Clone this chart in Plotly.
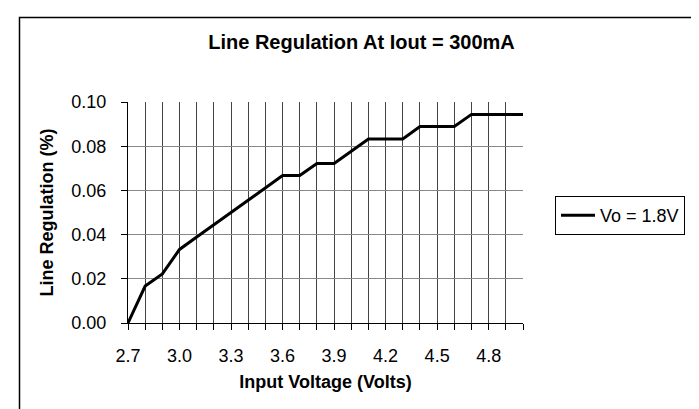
import plotly.graph_objects as go

# Data
input_voltage = [2.7, 2.8, 2.9, 3.0, 3.1, 3.2, 3.3, 3.4, 3.5, 3.6, 3.7, 3.8,
                 3.9, 4.0, 4.1, 4.2, 4.3, 4.4, 4.5, 4.6, 4.7, 4.8, 4.9, 5.0]
line_regulation = [0.0, 0.0167, 0.0222, 0.0333, 0.0389, 0.0444, 0.0500, 0.0556,
                   0.0611, 0.0667, 0.0667, 0.0722, 0.0722, 0.0778, 0.0833, 0.0833,
                   0.0833, 0.0889, 0.0889, 0.0889, 0.0944, 0.0944, 0.0944, 0.0944]
series_name = "Vo = 1.8V"
x_tick_values = [2.7, 3.0, 3.3, 3.6, 3.9, 4.2, 4.5, 4.8]
x_tick_labels = ["2.7", "3.0", "3.3", "3.6", "3.9", "4.2", "4.5", "4.8"]
y_tick_values = [0.0, 0.02, 0.04, 0.06, 0.08, 0.10]
y_tick_labels = ["0.00", "0.02", "0.04", "0.06", "0.08", "0.10"]

FONT = "Liberation Sans, Arial, sans-serif"

fig = go.Figure()
fig.add_trace(go.Scatter(
    x=input_voltage, y=line_regulation, mode="lines", name=series_name,
    line=dict(color="black", width=3),
))

fig.update_layout(
    width=699, height=409,
    margin=dict(l=120, r=184, t=94, b=94),
    paper_bgcolor="white", plot_bgcolor="white",
    font=dict(family=FONT, color="black", size=18),
    title=dict(text="<b>Line Regulation At Iout = 300mA</b>",
               x=353.5 / 699, xanchor="center", xref="container",
               y=1 - 34 / 409, yanchor="middle",
               font=dict(size=20, family=FONT, color="black")),
    showlegend=True,
    legend=dict(x=(547 - 120) / 395, xanchor="left",
                y=(315 - 188) / 221, yanchor="top",
                bordercolor="black", borderwidth=1,
                itemwidth=34,
                font=dict(size=18, family=FONT, color="black"),
                bgcolor="white"),
)

fig.update_xaxes(
    range=[2.7, 5.0],
    tickmode="array", tickvals=x_tick_values, ticktext=x_tick_labels,
    ticks="outside", ticklen=6, tickcolor="black", tickwidth=1,
    showgrid=True, gridcolor="#444444", gridwidth=1,
    minor=dict(tickmode="linear", tick0=2.7, dtick=0.1, ticks="outside",
               ticklen=6, tickcolor="black", showgrid=True,
               gridcolor="#444444", gridwidth=1),
    showline=True, linecolor="black", linewidth=1,
    zeroline=False,
    tickfont=dict(size=18, family=FONT),
    ticklabelstandoff=10,
    title=dict(text="<b>Input Voltage (Volts)</b>", font=dict(size=18, family=FONT),
               standoff=10),
)

fig.update_yaxes(
    range=[0, 0.1],
    tickmode="array", tickvals=y_tick_values, ticktext=y_tick_labels,
    ticks="outside", ticklen=6, tickcolor="black", tickwidth=1,
    showgrid=True, gridcolor="#888888", gridwidth=1,
    showline=True, linecolor="black", linewidth=1,
    zeroline=False,
    tickfont=dict(size=18, family=FONT),
    ticklabelstandoff=11,
    title=dict(text="<b>Line Regulation (%)</b>", font=dict(size=18, family=FONT),
               standoff=13),
)

# outer chart border
fig.add_shape(type="rect", xref="paper", yref="paper",
              x0=(11.5 - 120) / 395, x1=(695 - 120) / 395,
              y0=(315 - 430) / 221, y1=(315 - 9.5) / 221,
              line=dict(color="black", width=1.5), layer="below")

fig.write_html("out.html")
